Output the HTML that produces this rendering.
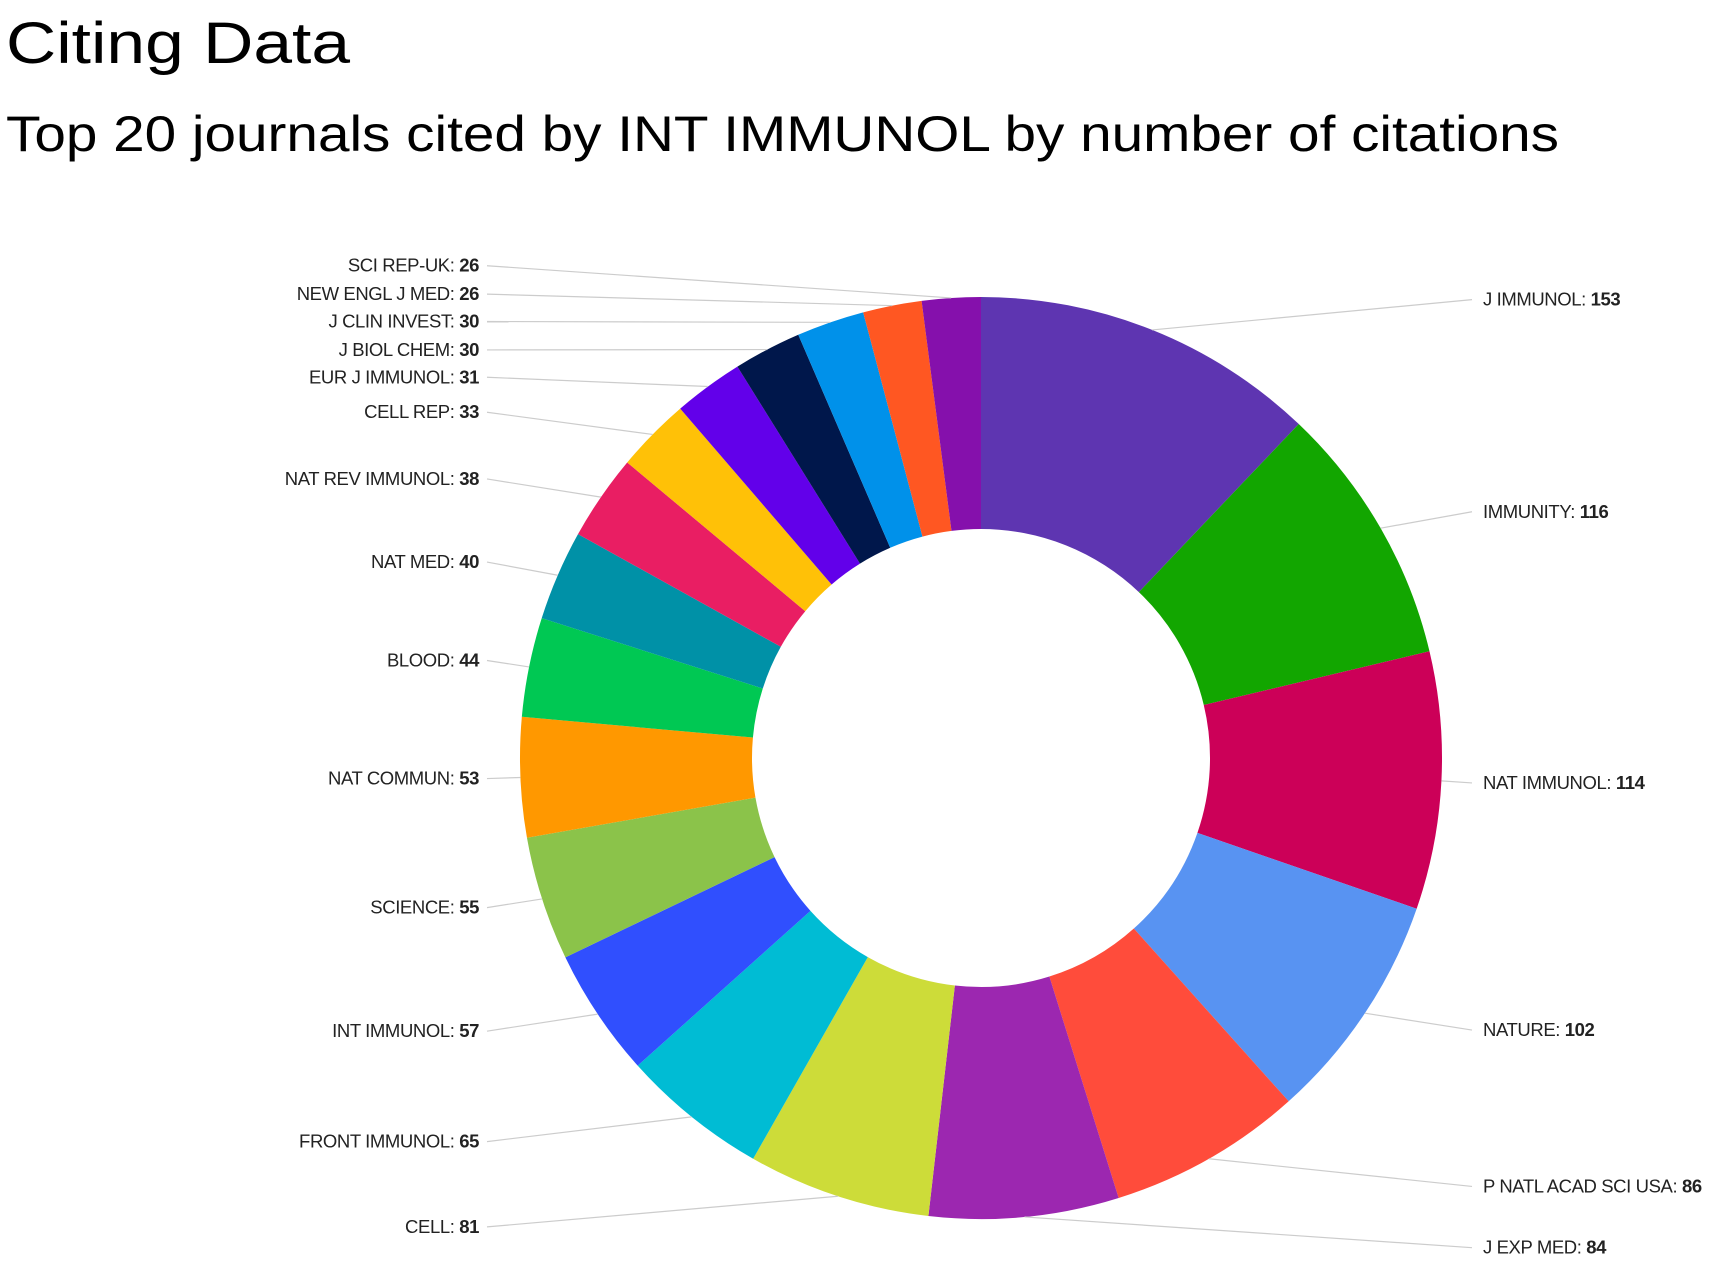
<!DOCTYPE html>
<html><head><meta charset="utf-8"><style>
html,body{margin:0;padding:0;background:#fff;}
svg{display:block;}
</style></head><body>
<svg id="s" width="1712" height="1266" xmlns="http://www.w3.org/2000/svg" font-family="Liberation Sans, sans-serif">
<text x="6" y="63" font-size="58" fill="#000" textLength="344" lengthAdjust="spacingAndGlyphs">Citing Data</text>
<text x="6" y="151" font-size="50" fill="#000" textLength="1553" lengthAdjust="spacingAndGlyphs">Top 20 journals cited by INT IMMUNOL by number of citations</text>
<g id="g"></g>
</svg>
<script>
var d=[["J IMMUNOL",153,"#5e35b1",274,1],["IMMUNITY",116,"#12a600",468,1],["NAT IMMUNOL",114,"#cc0058",716,1],["NATURE",102,"#5893f2",942,1],["P NATL ACAD SCI USA",86,"#ff4c3b",1085,1],["J EXP MED",84,"#9c27b0",1141,1],["CELL",81,"#cddc39",1122,0],["FRONT IMMUNOL",65,"#00bcd4",1044,0],["INT IMMUNOL",57,"#304ffe",943,0],["SCIENCE",55,"#8bc34a",830,0],["NAT COMMUN",53,"#ff9800",712,0],["BLOOD",44,"#00c853",604,0],["NAT MED",40,"#0091a7",514,0],["NAT REV IMMUNOL",38,"#e91e63",438,0],["CELL REP",33,"#ffc107",377,0],["EUR J IMMUNOL",31,"#6200ea",345,0],["J BIOL CHEM",30,"#00174b",320,0],["J CLIN INVEST",30,"#0091ea",294,0],["NEW ENGL J MED",26,"#ff5722",269,0],["SCI REP-UK",26,"#8510ac",243,0]];
var cx=981,cy=758,R=461,r=229,S=1.0935,tot=0;d.forEach(function(e){tot+=e[1]});
var a=0,h="";
function P(rad,ang){return [cx+rad*Math.sin(ang),cy-rad*Math.cos(ang)];}
d.forEach(function(e){
 var a0=a/tot*2*Math.PI;a+=e[1];var a1=a/tot*2*Math.PI;var lg=(a1-a0)>Math.PI?1:0;
 var p1=P(R,a0),p2=P(R,a1),p3=P(r,a1),p4=P(r,a0);
 h+='<path d="M'+p1+' A'+R+','+R+' 0 '+lg+' 1 '+p2+' L'+p3+' A'+r+','+r+' 0 '+lg+' 0 '+p4+'Z" fill="'+e[2]+'"/>';
 var m=P(R,(a0+a1)/2),y=e[3]*S;
 if(e[4]){h+='<line x1="'+m[0]+'" y1="'+m[1]+'" x2="1472" y2="'+y+'" stroke="#ccc" stroke-width="1.2"/>';
  h+='<text x="1483" y="'+(y+6)+'" font-size="18.5" letter-spacing="-0.4" fill="#222">'+e[0]+': <tspan font-weight="bold">'+e[1]+'</tspan></text>';}
 else{h+='<line x1="'+m[0]+'" y1="'+m[1]+'" x2="487" y2="'+y+'" stroke="#ccc" stroke-width="1.2"/>';
  h+='<text x="479" y="'+(y+6)+'" font-size="18.5" letter-spacing="-0.4" fill="#222" text-anchor="end">'+e[0]+': <tspan font-weight="bold">'+e[1]+'</tspan></text>';}
});
document.getElementById("g").innerHTML=h;
</script>
</body></html>
